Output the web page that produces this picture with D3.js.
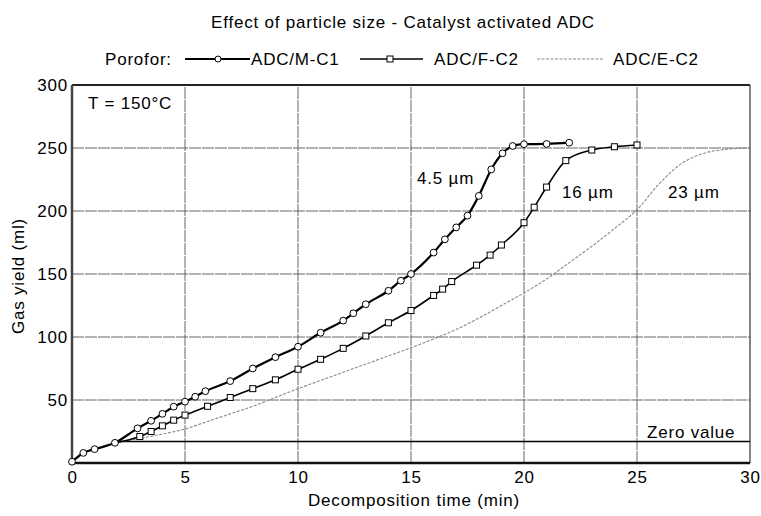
<!DOCTYPE html>
<html>
<head>
<meta charset="utf-8">
<script src="https://cdn.jsdelivr.net/npm/d3@7"></script>
<style>
  body { margin: 0; background: #fff; }
  text { font-family: "Liberation Sans", Arial, sans-serif; fill: #000; font-size: 17px; letter-spacing: 0.8px; }
</style>
</head>
<body>
<div id="vis-container"></div>
<script>
const width = 761,
    height = 516;

// ADC/M-C1 (4.5 um), circles
const mc1Time  = [0, 0.5, 1, 1.9, 2.9, 3.5, 4, 4.5, 5, 5.45, 5.9, 7, 8, 9, 10, 11, 12, 12.45, 13, 14, 14.55, 15, 16, 16.5, 17, 17.5, 18, 18.55, 19.05, 19.5, 20, 21, 22];
const mc1Yield = [1, 8, 11, 16, 27.5, 33.5, 39, 44.7, 48.7, 52.6, 57, 65, 75, 84, 92.3, 103.4, 113, 118.8, 126, 136.7, 144.7, 150, 167, 177.5, 187, 196.3, 212, 233, 245.8, 251.6, 253, 253.2, 254.2];

// ADC/F-C2 (16 um), squares
const fc2Time  = [1.9, 3, 3.5, 4, 4.5, 5, 6, 7, 8, 9, 10, 11, 12, 13, 14, 15, 16, 16.4, 16.8, 17.9, 18.5, 19, 20, 20.45, 21, 21.85, 23, 24, 25];
const fc2Yield = [16, 21, 25, 29.5, 34, 38, 45, 52, 59, 66, 74.4, 82.3, 91, 100.8, 111.3, 121, 133, 138, 144, 157, 165, 173, 190.7, 203, 219, 240, 248.4, 251, 252.4];

// ADC/E-C2 (23 um), dotted, no markers
const ec2Time  = [1.9, 3, 4, 5, 6, 7, 8, 9, 10, 11, 12, 13, 14, 15, 16, 17, 18, 19, 20, 21, 22, 23, 24, 25, 26, 27, 28, 29, 30];
const ec2Yield = [16, 19.5, 23, 27, 33, 39, 45, 52, 59, 65.5, 72, 78.5, 85, 91.5, 98.5, 106, 115, 125, 135, 146, 159, 172, 186, 201, 222, 238, 246, 249, 250];

const zeroValue = 17;
const xTicks = [0, 5, 10, 15, 20, 25, 30];
const yTicks = [0, 50, 100, 150, 200, 250, 300];

const margin = {top: 85, right: 11, bottom: 53, left: 72};

var svg = d3.select("#vis-container").append("svg")
    .attr("width", width)
    .attr("height", height);

var x = d3.scaleLinear().domain([0, 30]).range([margin.left, width - margin.right]);
var y = d3.scaleLinear().domain([0, 300]).range([height - margin.bottom, margin.top]);

// title + legend
svg.append("text")
    .attr("x", 403).attr("y", 28)
    .attr("text-anchor", "middle")
    .text("Effect of particle size - Catalyst activated ADC");

var leg = svg.append("g");
leg.append("text").attr("x", 105).attr("y", 65).text("Porofor:");
leg.append("line").attr("x1", 185).attr("x2", 250).attr("y1", 59).attr("y2", 59)
    .attr("stroke", "#000").attr("stroke-width", 2.2);
leg.append("circle").attr("cx", 218).attr("cy", 59).attr("r", 3)
    .attr("fill", "#fff").attr("stroke", "#000");
leg.append("text").attr("x", 251).attr("y", 65).text("ADC/M-C1");
leg.append("line").attr("x1", 360).attr("x2", 423).attr("y1", 59).attr("y2", 59)
    .attr("stroke", "#000").attr("stroke-width", 1.6);
leg.append("rect").attr("x", 387).attr("y", 56).attr("width", 6).attr("height", 6)
    .attr("fill", "#fff").attr("stroke", "#000");
leg.append("text").attr("x", 434).attr("y", 65).text("ADC/F-C2");
leg.append("line").attr("x1", 537).attr("x2", 603).attr("y1", 59).attr("y2", 59)
    .attr("stroke", "#888").attr("stroke-width", 1).attr("stroke-dasharray", "3,1.5");
leg.append("text").attr("x", 613).attr("y", 65).text("ADC/E-C2");

// grid
var grid = svg.append("g");
grid.selectAll(".vg").data(xTicks.slice(1, -1)).enter().append("line")
    .attr("x1", d => x(d)).attr("x2", d => x(d))
    .attr("y1", y(0)).attr("y2", y(300))
    .attr("stroke", "#555").attr("stroke-width", 0.9).attr("stroke-dasharray", "12,1");
grid.selectAll(".hg").data(yTicks.slice(1, -1)).enter().append("line")
    .attr("x1", x(0)).attr("x2", x(30))
    .attr("y1", d => y(d)).attr("y2", d => y(d))
    .attr("stroke", "#555").attr("stroke-width", 0.9).attr("stroke-dasharray", "12,1");

// zero value line
svg.append("line")
    .attr("x1", x(2)).attr("x2", x(30))
    .attr("y1", y(zeroValue)).attr("y2", y(zeroValue))
    .attr("stroke", "#000").attr("stroke-width", 1.5);
svg.append("text").attr("x", 647).attr("y", 438).text("Zero value");

// axes
var xAxis = svg.append("g")
    .attr("transform", "translate(0," + y(0) + ")")
    .call(d3.axisBottom(x).tickValues(xTicks).tickSize(0).tickPadding(8));
xAxis.select(".domain").remove();
xAxis.selectAll("text").attr("font-size", null).attr("font-family", null);

var yAxis = svg.append("g")
    .attr("transform", "translate(" + (x(0) - 4) + ",0)")
    .call(d3.axisLeft(y).tickValues(yTicks.slice(1)).tickSize(0).tickPadding(0));
yAxis.select(".domain").remove();
yAxis.selectAll("text").attr("font-size", null).attr("font-family", null);

svg.append("text")
    .attr("x", 414).attr("y", 506)
    .attr("text-anchor", "middle")
    .text("Decomposition time (min)");
svg.append("text")
    .attr("transform", "translate(24,276) rotate(-90)")
    .attr("text-anchor", "middle")
    .text("Gas yield (ml)");

// frame
svg.append("line").attr("x1", x(30)).attr("x2", x(30)).attr("y1", y(0)).attr("y2", y(300))
    .attr("stroke", "#333").attr("stroke-width", 1.2);
svg.append("line").attr("x1", x(0)).attr("x2", x(30)).attr("y1", y(300)).attr("y2", y(300))
    .attr("stroke", "#222").attr("stroke-width", 2);
svg.append("line").attr("x1", x(0)).attr("x2", x(30)).attr("y1", y(0)).attr("y2", y(0))
    .attr("stroke", "#111").attr("stroke-width", 2.5);
svg.append("line").attr("x1", x(0)).attr("x2", x(0)).attr("y1", y(0)).attr("y2", y(300))
    .attr("stroke", "#444").attr("stroke-width", 2.5);

// curves
var line = d3.line()
    .x(d => x(d[0]))
    .y(d => y(d[1]))
    .curve(d3.curveMonotoneX);

var ec2 = d3.zip(ec2Time, ec2Yield),
    fc2 = d3.zip(fc2Time, fc2Yield),
    mc1 = d3.zip(mc1Time, mc1Yield);

svg.append("path").datum(ec2).attr("d", line)
    .attr("fill", "none").attr("stroke", "#888").attr("stroke-width", 1.1)
    .attr("stroke-dasharray", "3,1.5");

svg.append("path").datum(fc2).attr("d", line)
    .attr("fill", "none").attr("stroke", "#000").attr("stroke-width", 1.6);
svg.selectAll(".sq").data(fc2.slice(1)).enter().append("rect")
    .attr("x", d => x(d[0]) - 3).attr("y", d => y(d[1]) - 3)
    .attr("width", 6).attr("height", 6)
    .attr("fill", "#fff").attr("stroke", "#000").attr("stroke-width", 1);

svg.append("path").datum(mc1).attr("d", line)
    .attr("fill", "none").attr("stroke", "#000").attr("stroke-width", 2.2);
svg.selectAll(".ci").data(mc1).enter().append("circle")
    .attr("cx", d => x(d[0])).attr("cy", d => y(d[1])).attr("r", 3.4)
    .attr("fill", "#fff").attr("stroke", "#000").attr("stroke-width", 1);

// annotations
svg.append("text").attr("x", 88).attr("y", 109).text("T = 150°C");
svg.append("text").attr("x", 417).attr("y", 184).text("4.5 µm");
svg.append("text").attr("x", 562).attr("y", 198).text("16 µm");
svg.append("text").attr("x", 668).attr("y", 198).text("23 µm");
</script>
</body>
</html>
